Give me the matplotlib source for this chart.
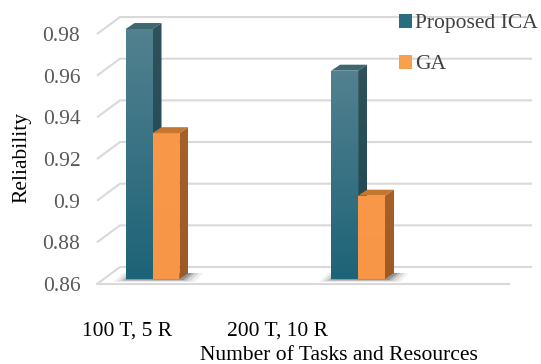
import numpy as np
import matplotlib.pyplot as plt
from matplotlib.patches import Patch, Polygon
from matplotlib.transforms import offset_copy
from matplotlib.colors import LinearSegmentedColormap

plt.rcParams['font.family'] = ['Liberation Serif', 'DejaVu Serif']

categories = ['100 T, 5 R', '200 T, 10 R']
series_names = ['Proposed ICA', 'GA']
ica = [0.98, 0.96]
ga = [0.93, 0.90]
yticks = [0.86, 0.88, 0.90, 0.92, 0.94, 0.96, 0.98]
ytick_labels = ['0.86', '0.88', '0.9', '0.92', '0.94', '0.96', '0.98']

W, H = 541, 364
fs = 15.5
fig = plt.figure(figsize=(W / 100, H / 100), dpi=100)
# front plane of the plot box, in pixels
left, right, bottom, top = 97, 532, 284, 13.2
ax = fig.add_axes([left / W, (H - bottom) / H, (right - left) / W, (bottom - top) / H])
ax.set_xlim(-0.270, 1.846)
ax.set_ylim(0.86, 0.99)
for s in ax.spines.values():
    s.set_visible(False)


def px(dx, dy):
    inv = ax.transData.inverted()
    a = inv.transform((0, 0))
    b = inv.transform((dx, dy))
    return b[0] - a[0], b[1] - a[1]


# walls: diagonal + back gridline for every tick
wdx, wdy = px(23, 17)
x0, x1 = ax.get_xlim()
gcol = '#d9d9d9'
for v in yticks:
    ax.plot([x0, x0 + wdx, x1], [v, v + wdy, v + wdy], color=gcol, lw=1.5,
            solid_capstyle='butt', zorder=1, clip_on=False)
ax.plot([x0, x1 - wdx], [0.86, 0.86], color=gcol, lw=1.5, zorder=1, clip_on=False)

# bars sit a little behind the front plane
bar_tr = offset_copy(ax.transData, fig=fig, x=0, y=5, units='dots')
bdx, bdy = px(9, 6)
bw = 0.131
xs = np.arange(len(categories))


def grad_fill(verts, c_top, c_bot, z):
    poly = Polygon(verts, closed=True, facecolor='none', edgecolor='none',
                   transform=bar_tr, zorder=z)
    ax.add_patch(poly)
    vx = [p[0] for p in verts]
    vy = [p[1] for p in verts]
    cmap = LinearSegmentedColormap.from_list('g', [c_bot, c_top])
    img = ax.imshow(np.linspace(0, 1, 64).reshape(-1, 1), cmap=cmap, origin='lower',
                    extent=[min(vx), max(vx), min(vy), max(vy)], aspect='auto',
                    transform=bar_tr, zorder=z, interpolation='bilinear')
    img.set_clip_path(poly)


def bar3d(xl, val, front, topc, side, z):
    xr = xl + bw
    b = 0.86
    grad_fill([(xl, b), (xr, b), (xr, val), (xl, val)], front[0], front[1], z)
    ax.add_patch(Polygon([(xl, val), (xr, val), (xr + bdx, val + bdy), (xl + bdx, val + bdy)],
                         facecolor=topc, edgecolor='none', transform=bar_tr, zorder=z))
    grad_fill([(xr, b), (xr + bdx, b + bdy), (xr + bdx, val + bdy), (xr, val)],
              side[0], side[1], z)


# soft floor shadows under each group
for x in xs:
    for k, a in zip([12, 8, 4, 1], [0.06, 0.09, 0.14, 0.2]):
        sx0 = x - bw - px(k, 0)[0]
        sx1 = x + bw + bdx + px(k + 3, 0)[0]
        h = px(0, 2 + k / 3)[1]
        ax.add_patch(Polygon([(sx0, 0.86 - h / 2), (sx1 - bdx, 0.86 - h / 2),
                              (sx1, 0.86 + bdy), (sx0 + bdx, 0.86 + bdy)],
                             facecolor='black', edgecolor='none', alpha=a,
                             transform=bar_tr, zorder=2))

for i, x in enumerate(xs):
    bar3d(x - bw, ica[i], ('#52818f', '#1e6378'), '#3e6871', ('#2f525c', '#1b4753'), 3 + i)
    bar3d(x, ga[i], ('#f99848', '#f79646'), '#c4772f', ('#a66129', '#9c5a26'), 3.5 + i)

ax.set_xlim(x0, x1)
ax.set_ylim(0.86, 0.99)

ax.set_yticks(yticks)
ax.set_yticklabels(ytick_labels)
ax.tick_params(axis='y', length=0, pad=12, labelsize=fs, labelcolor='#595959')
ax.set_xticks([-0.124, 0.606])
ax.set_xticklabels(categories)
ax.tick_params(axis='x', length=0, pad=27, labelsize=fs, labelcolor='black')

ax.set_xlabel('Number of Tasks and Resources', fontsize=fs)
ax.xaxis.set_label_coords(0.557, -0.228)
ax.set_ylabel('Reliability', fontsize=fs)
ax.yaxis.set_label_coords(-0.150, 0.467)

handles = [Patch(facecolor='#2a6d80', edgecolor='none'),
           Patch(facecolor='#f9a04d', edgecolor='none')]
ax.legend(handles, series_names, loc='upper left', bbox_to_anchor=(399 / W, 1 - 14 / H),
          bbox_transform=fig.transFigure, frameon=False, fontsize=fs,
          handlelength=0.6, handleheight=0.6, handletextpad=0.15,
          labelspacing=1.0, borderpad=0, borderaxespad=0, labelcolor='#404040')

fig.savefig('out.png', dpi=100)
